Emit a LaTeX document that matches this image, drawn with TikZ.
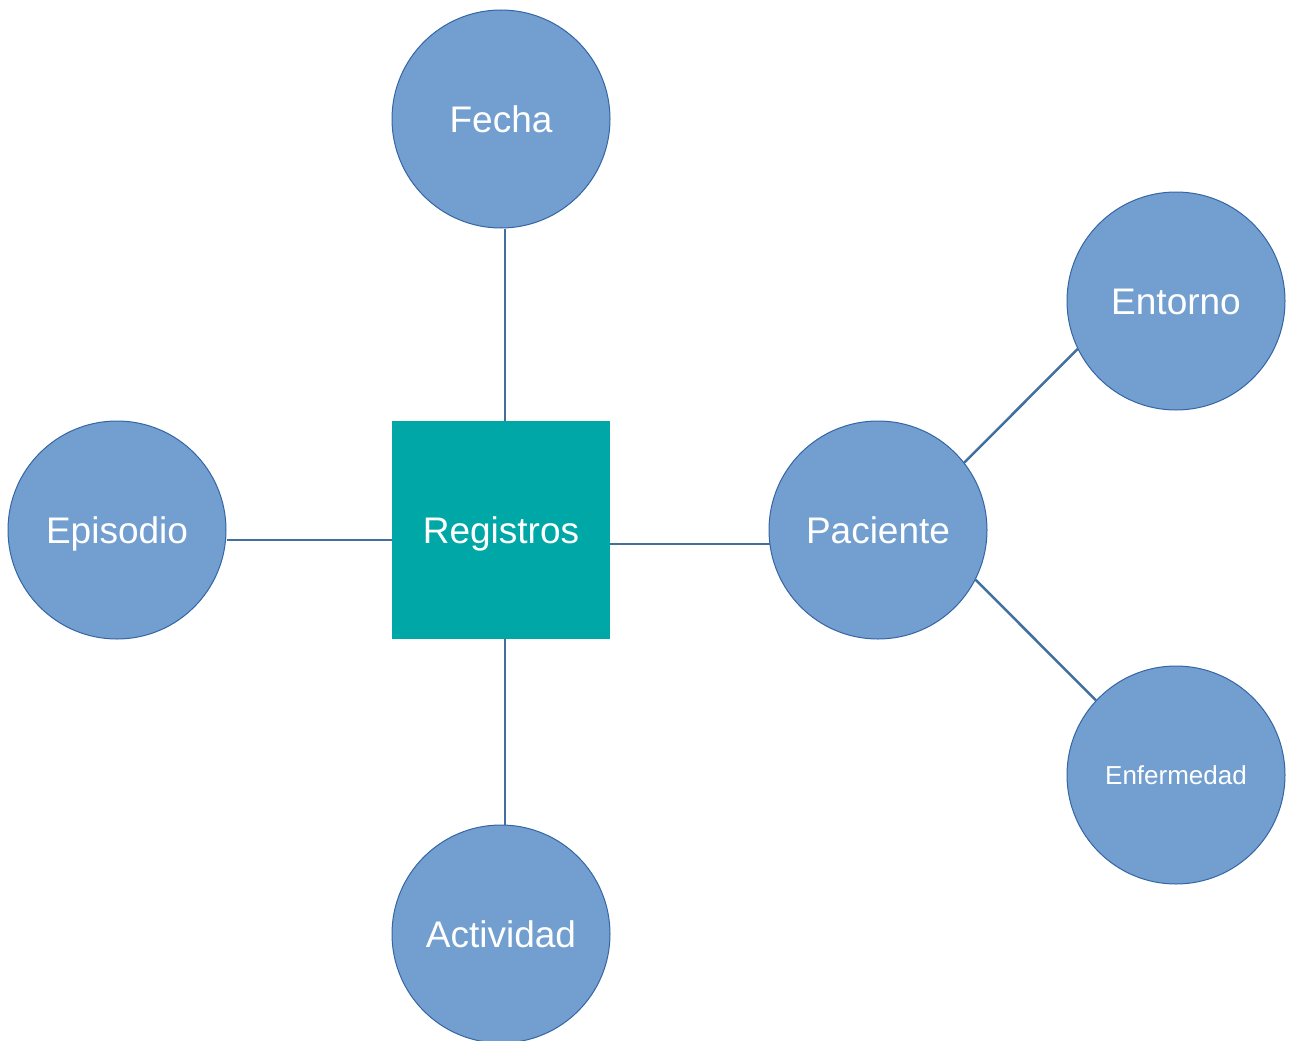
\documentclass[tikz,border=0pt]{standalone}
\usepackage{fontspec}
\setmainfont{Liberation Sans}
\definecolor{circfill}{HTML}{729FCF}
\definecolor{circline}{HTML}{3465A4}
\definecolor{linkcol}{HTML}{41709F}
\definecolor{teal}{HTML}{00A7A7}
\begin{document}
\begin{tikzpicture}[x=1pt,y=-1pt,
  ent/.style={circle,fill=circfill,draw=circline,line width=1pt,minimum size=218pt,inner sep=0pt,text=white,text height=26.5pt,text depth=0pt,font=\fontsize{37}{40}\selectfont},
  hub/.style={rectangle,fill=teal,minimum size=218pt,inner sep=0pt,text=white,text height=26.5pt,text depth=0pt,font=\fontsize{37}{40}\selectfont},
  link/.style={draw=linkcol,line width=2.5pt}]
\useasboundingbox (0,0) rectangle (1290,1041);
\node[hub] (reg) at (501,530) {Registros};
\node[ent] (fecha) at (501,119) {Fecha};
\node[ent] (epi) at (117,530) {Episodio};
\node[ent] (act) at (501,934) {Actividad};
\node[ent] (pac) at (878,530) {Paciente};
\node[ent] (ento) at (1176,301) {Entorno};
\node[ent,font=\fontsize{26}{30}\selectfont,text height=18.6pt] (enf) at (1176,775) {Enfermedad};
\path[link] ([xshift=4pt]fecha.south) -- ([xshift=4pt]reg.north);
\path[link] ([xshift=4pt]reg.south) -- ([xshift=4pt]act.north);
\path[link] ([yshift=-10pt]epi.east) -- ([yshift=-10pt]reg.west);
\path[link] ([yshift=-14pt]reg.east) -- ([yshift=-14pt,xshift=1pt]pac.west);
\path[link] (pac.38.7) -- (ento.206);
\path[link] (pac.-27.5) -- (enf.137);
\end{tikzpicture}
\end{document}
